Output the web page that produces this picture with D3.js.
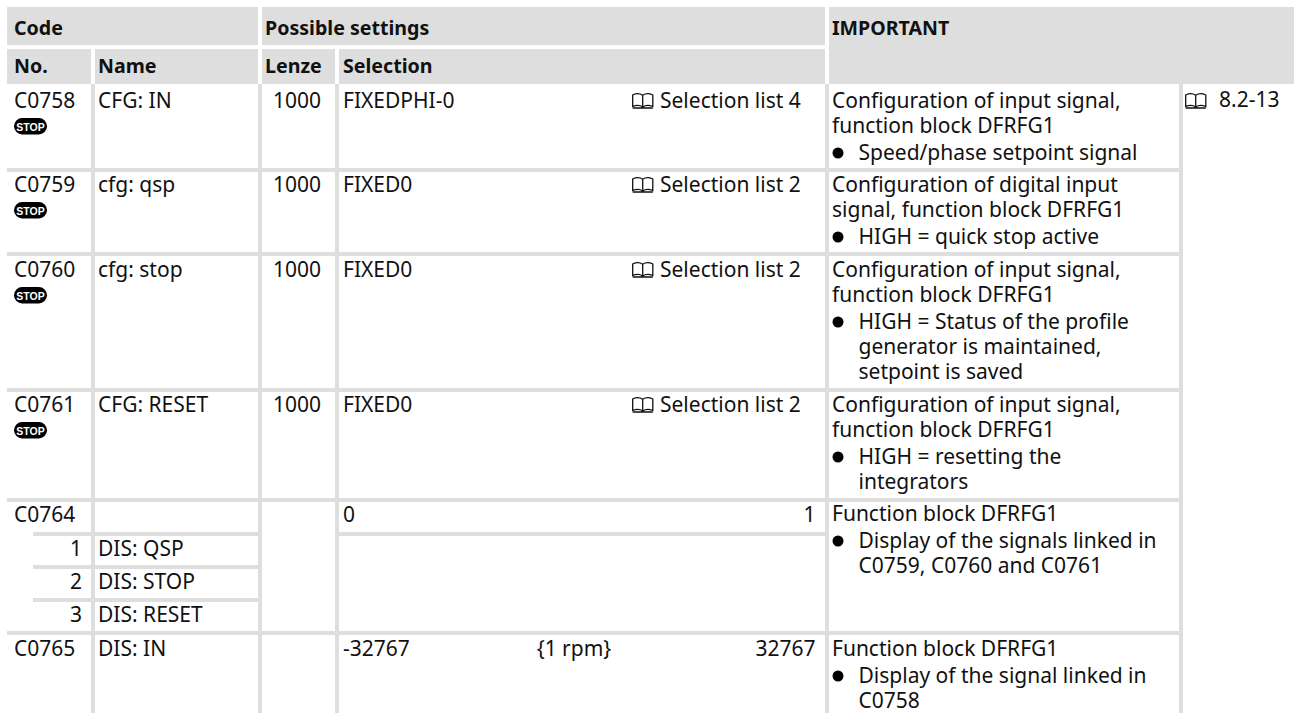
<!DOCTYPE html>
<html>
<head>
<meta charset="utf-8">
<title>DFRFG1 codes</title>
<script src="https://cdn.jsdelivr.net/npm/d3@7"></script>
<style>
	html, body { margin: 0; padding: 0; background: #fff; }
	svg { display: block; }
	text { font-family: "Noto Sans", sans-serif; font-size: 21px; fill: #111; }
	.head { font-weight: 700; font-size: 19.6px; }
</style>
</head>
<body>
<div id="chart"></div>
<script>
// Table content
const rowKeys = ['C0758', 'C0759', 'C0760', 'C0761', 'C0764', '1', '2', '3', 'C0765'];
const names = ['CFG: IN', 'cfg: qsp', 'cfg: stop', 'CFG: RESET', '', 'DIS: QSP', 'DIS: STOP', 'DIS: RESET', 'DIS: IN'];
const lenze = ['1000', '1000', '1000', '1000', '', '', '', '', ''];
const selection = ['FIXEDPHI-0', 'FIXED0', 'FIXED0', 'FIXED0', '0', '', '', '', '-32767'];
const selectionUnit = ['', '', '', '', '', '', '', '', '{1 rpm}'];
const selectionMax = ['', '', '', '', '1', '', '', '', '32767'];
const listRefs = ['Selection list 4', 'Selection list 2', 'Selection list 2', 'Selection list 2', '', '', '', '', ''];
const stopCodes = ['C0758', 'C0759', 'C0760', 'C0761'];
const pageRef = '8.2-13';

// level 0 = plain line, 1 = bullet line, 2 = bullet continuation
const notes = [
	['C0758', [['Configuration of input signal,', 0], ['function block DFRFG1', 0], ['Speed/phase setpoint signal', 1]]],
	['C0759', [['Configuration of digital input', 0], ['signal, function block DFRFG1', 0], ['HIGH = quick stop active', 1]]],
	['C0760', [['Configuration of input signal,', 0], ['function block DFRFG1', 0], ['HIGH = Status of the profile', 1], ['generator is maintained,', 2], ['setpoint is saved', 2]]],
	['C0761', [['Configuration of input signal,', 0], ['function block DFRFG1', 0], ['HIGH = resetting the', 1], ['integrators', 2]]],
	['C0764', [['Function block DFRFG1', 0], ['Display of the signals linked in', 1], ['C0759, C0760 and C0761', 2]]],
	['C0765', [['Function block DFRFG1', 0], ['Display of the signal linked in', 1], ['C0758', 2]]]
];

const width = 1294;
const height = 713;
const grey = '#dedede';

// Column text positions
const x = d3.scaleOrdinal(
	['no', 'noRight', 'name', 'lenzeLeft', 'lenzeRight', 'sel', 'book', 'list', 'unit', 'max', 'note', 'bullet', 'indent', 'pageBook', 'page'],
	[14, 82, 98, 265, 321, 343, 632, 660, 574, 815.5, 832, 838, 858.5, 1185, 1219]
);
// Text baseline of each table row
const y = d3.scaleOrdinal(rowKeys, [108, 192, 277, 412, 522, 556, 589, 622, 656]);

const svg = d3.select('#chart').append('svg')
	.attr('width', width)
	.attr('height', height)
	.attr('viewBox', [0, 0, width, height]);

// Header blocks
const headerBlocks = [
	[7, 7, 258, 45], [262, 7, 825, 45], [829, 7, 1294, 84],
	[7, 49, 91, 84], [95, 49, 258, 84], [262, 49, 335, 84], [339, 49, 825, 84]
];
svg.append('g').selectAll('rect')
	.data(headerBlocks)
	.join('rect')
	.attr('x', d => d[0])
	.attr('y', d => d[1])
	.attr('width', d => d[2] - d[0])
	.attr('height', d => d[3] - d[1])
	.attr('fill', grey);

// Grid lines: x0, y0, x1, y1
const gridLines = [
	[91, 84, 95, 713], [258, 84, 262, 713], [335, 84, 339, 713], [825, 84, 829, 713], [1179, 84, 1183, 713],
	[7, 168, 1179, 172], [7, 252, 1179, 256], [7, 388, 1179, 392], [7, 498, 1179, 502], [7, 631, 1179, 635],
	[33, 532, 258, 536], [339, 532, 825, 536], [33, 565, 258, 569], [33, 598, 258, 602]
];
svg.append('g').selectAll('rect')
	.data(gridLines)
	.join('rect')
	.attr('x', d => d[0])
	.attr('y', d => d[1])
	.attr('width', d => d[2] - d[0])
	.attr('height', d => d[3] - d[1])
	.attr('fill', grey);

// Header text
const headers = [['Code', 14, 35], ['Possible settings', 265, 35], ['IMPORTANT', 832, 35],
	['No.', 14, 73], ['Name', 98, 73], ['Lenze', 265, 73], ['Selection', 343, 73]];
svg.append('g').selectAll('text')
	.data(headers)
	.join('text')
	.attr('class', 'head')
	.attr('x', d => d[1])
	.attr('y', d => d[2])
	.text(d => d[0]);

// Body cells
const cells = [];
rowKeys.forEach((key, i) => {
	const isSub = key.length === 1;
	cells.push({ key, text: key, col: isSub ? 'noRight' : 'no', anchor: isSub ? 'end' : 'start' });
	cells.push({ key, text: names[i], col: 'name', anchor: 'start' });
	cells.push({ key, text: lenze[i], col: 'lenzeRight', anchor: 'end' });
	cells.push({ key, text: selection[i], col: 'sel', anchor: 'start' });
	cells.push({ key, text: selectionUnit[i], col: 'unit', anchor: 'middle' });
	cells.push({ key, text: selectionMax[i], col: 'max', anchor: 'end' });
	cells.push({ key, text: listRefs[i], col: 'list', anchor: 'start' });
});
svg.append('g').selectAll('text')
	.data(cells.filter(d => d.text))
	.join('text')
	.attr('x', d => x(d.col))
	.attr('y', d => y(d.key))
	.attr('text-anchor', d => d.anchor)
	.text(d => d.text);

svg.append('text')
	.attr('x', x('page'))
	.attr('y', y('C0758') - 1)
	.text(pageRef);

// Notes column, bullet paragraphs sit 2px lower than the line step
const noteLines = [];
notes.forEach(([key, lines]) => {
	let base = y(key) - (key === 'C0764' ? 1 : 0);
	lines.forEach(([text, level], i) => {
		if (i > 0) base += level === 1 ? 27 : 25;
		noteLines.push({ text, level, base });
	});
});
const noteG = svg.append('g');
noteG.selectAll('text')
	.data(noteLines)
	.join('text')
	.attr('x', d => x(d.level ? 'indent' : 'note'))
	.attr('y', d => d.base)
	.text(d => d.text);
noteG.selectAll('circle')
	.data(noteLines.filter(d => d.level === 1))
	.join('circle')
	.attr('cx', x('bullet'))
	.attr('cy', d => d.base - 7)
	.attr('r', 5.5)
	.attr('fill', '#000');

// STOP badges
const badge = svg.append('g').selectAll('g')
	.data(stopCodes)
	.join('g')
	.attr('transform', d => `translate(${x('no')},${y(d) + 10})`);
badge.append('rect')
	.attr('width', 33)
	.attr('height', 16.5)
	.attr('rx', 8.2)
	.attr('fill', '#000');
badge.append('text')
	.attr('x', 16.5)
	.attr('y', 12.5)
	.attr('text-anchor', 'middle')
	.style('font-family', '"Liberation Sans", sans-serif')
	.style('font-size', '10.5px')
	.style('font-weight', 700)
	.style('fill', '#fff')
	.text('STOP');

// Open book icon
function drawBook(g) {
	g.append('path')
		.attr('d', 'M0.7,13.5 V2 C4,0.4 8,0.4 10.7,2.2 C13.4,0.4 17.5,0.4 20.8,2 V13.5 C17.5,12.2 13.4,12.2 10.7,14 C8,12.2 4,12.2 0.7,13.5 Z M10.7,2.2 V14 M0.7,15 H20.8')
		.attr('fill', 'none')
		.attr('stroke', '#111')
		.attr('stroke-width', 1.3);
}
const bookRows = rowKeys.filter((k, i) => listRefs[i]);
svg.append('g').selectAll('g')
	.data(bookRows)
	.join('g')
	.attr('transform', d => `translate(${x('book')},${y(d) - 15})`)
	.call(drawBook);
svg.append('g')
	.attr('transform', `translate(${x('pageBook')},${y('C0758') - 15})`)
	.call(drawBook);
</script>
</body>
</html>
